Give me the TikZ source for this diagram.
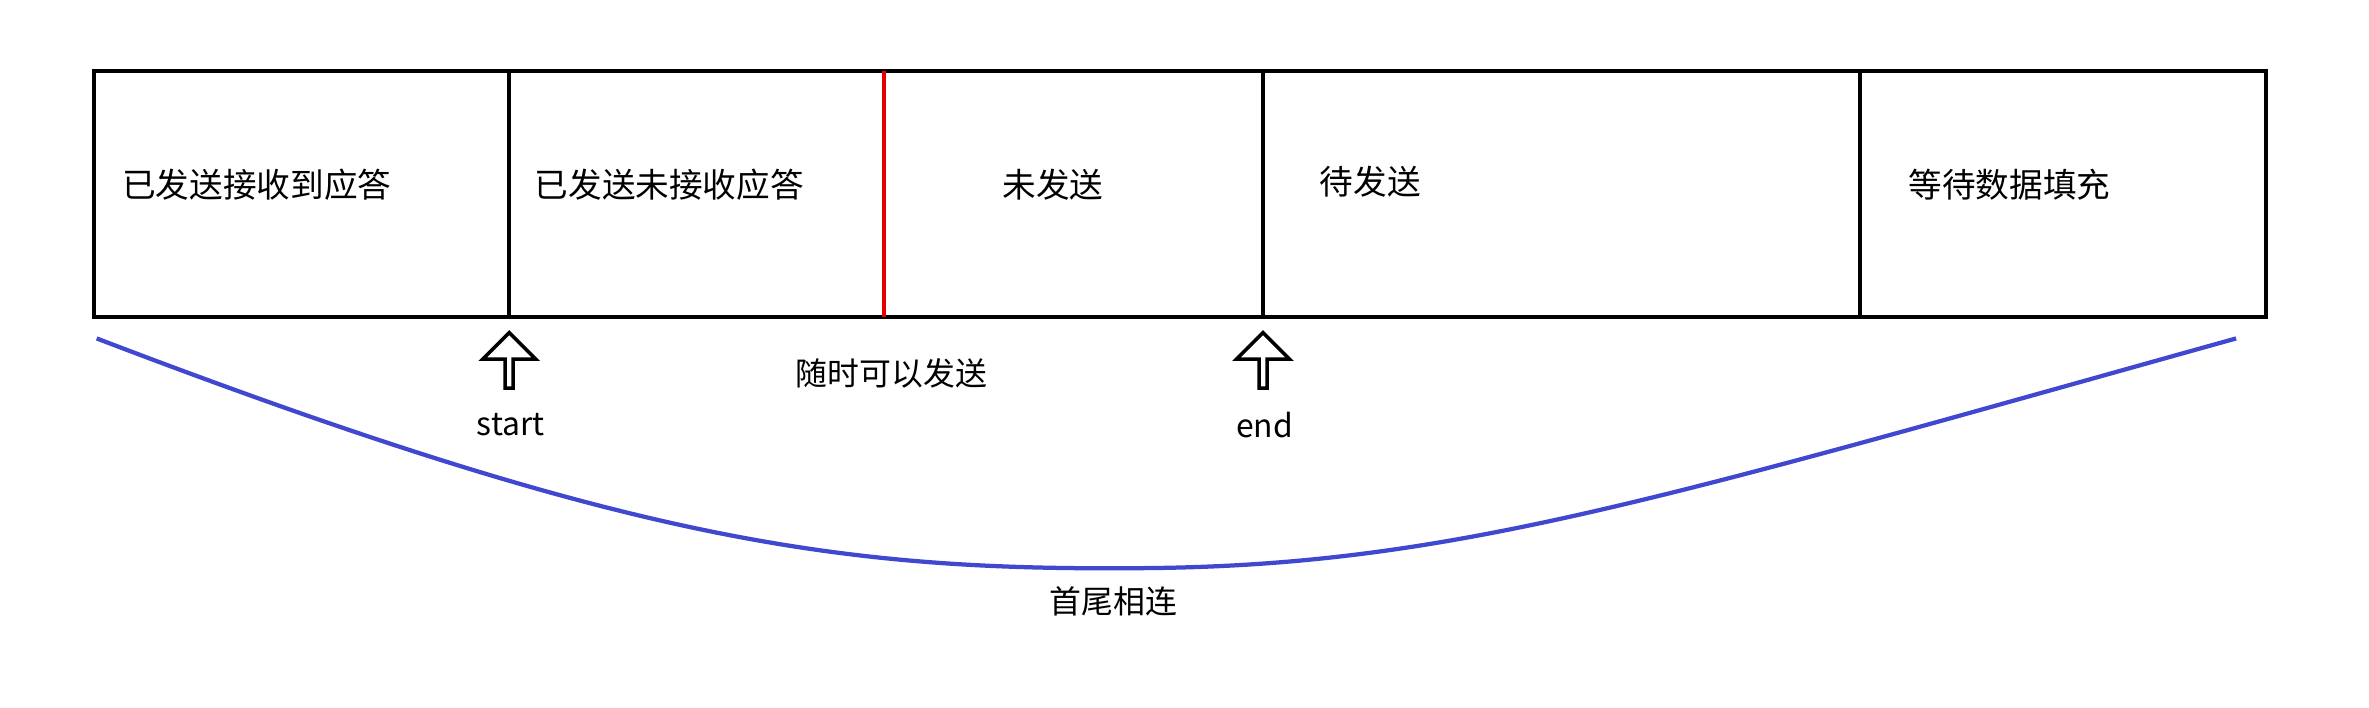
\documentclass[tikz,border=0pt]{standalone}
\usepackage{fontspec}
\setmainfont{Noto Sans CJK SC}
\usetikzlibrary{shapes.arrows}
\definecolor{loopblue}{RGB}{64,72,208}
\tikzset{
  cell/.style={font=\fontsize{19}{22}\selectfont},
  pointer/.style={draw,line width=2pt,single arrow,shape border rotate=90,
    minimum height=1.1cm,minimum width=1.05cm,single arrow head extend=0.2cm,inner sep=0pt},
  tag/.style={font=\fontsize{18}{21}\selectfont}
}
\begin{document}
\begin{tikzpicture}[x=0.03cm,y=-0.03cm]
\useasboundingbox (0,0) rectangle (1568,468);
\draw[line width=2.4pt] (62,47) rectangle (1500,210);
\foreach \x in {337,836,1231}
  \draw[line width=2.4pt] (\x,47) -- (\x,210);
\draw[red!90!black,line width=2.4pt] (585,47) -- (585,210);
\node[cell] (acked) at (170,122) {已发送接收到应答};
\node[cell] (unacked) at (443,122) {已发送未接收应答};
\node[cell] (unsent) at (697,122) {未发送};
\node[cell] (pending) at (907,120) {待发送};
\node[cell] (fill) at (1330,122) {等待数据填充};
\node[pointer,anchor=south] (startarrow) at (337,258) {};
\node[pointer,anchor=south] (endarrow) at (836,258) {};
\node[tag] (start) at (338,281) {start};
\node[tag] (end) at (837,281) {end};
\node[tag] (anytime) at (590,247) {随时可以发送};
\coordinate (left) at (64,224);
\coordinate (bottom) at (760,376);
\coordinate (right) at (1480,224);
\draw[loopblue,line width=2.4pt] (left) .. controls (420,360) and (560,378) .. (bottom)
  .. controls (960,374) and (1100,330) .. (right);
\node[tag] (loop) at (737,398) {首尾相连};
\end{tikzpicture}
\end{document}
